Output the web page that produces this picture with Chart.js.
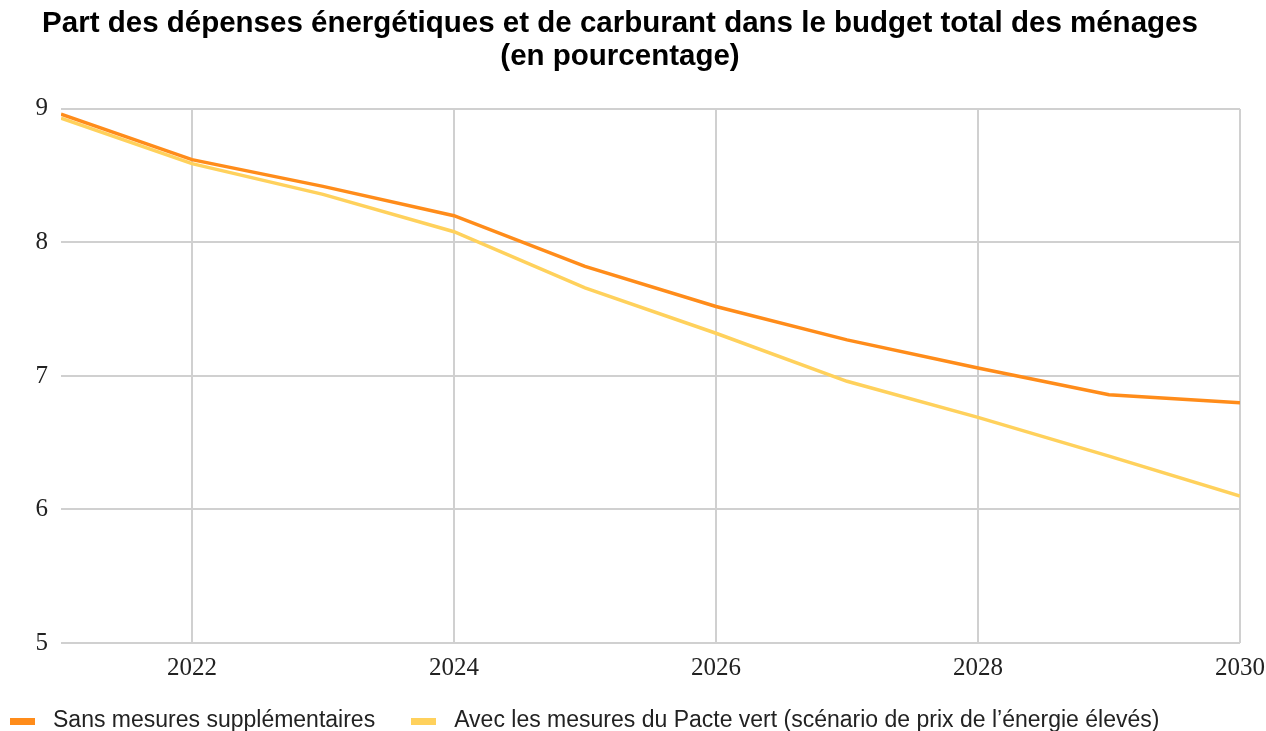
<!DOCTYPE html>
<html lang="fr">
<head>
<meta charset="UTF-8" />
<title>Part des dépenses énergétiques</title>
<script src="https://cdn.jsdelivr.net/npm/chart.js"></script>
<style>
  html, body { margin: 0; padding: 0; background: #fff; }
  #wrap { position: relative; width: 1266px; height: 731px; }
  #legend {
    position: absolute; left: 10px; top: 706px;
    display: flex; align-items: center;
    font-family: 'Liberation Sans', Arial, sans-serif; font-size: 23px; color: #222;
    white-space: nowrap;
  }
  #legend .item { display: flex; align-items: center; margin-right: 36px; }
  #legend .swatch { width: 25px; height: 7px; margin-right: 18px; margin-top: 3px; }
</style>
</head>
<body>
<div id="wrap">
  <canvas id="chart" width="1266" height="731"></canvas>
  <div id="legend"></div>
</div>
<script>
  // years on the x axis
  const years = [2021, 2022, 2023, 2024, 2025, 2026, 2027, 2028, 2029, 2030];
  const xTicks = [2022, 2024, 2026, 2028, 2030];
  const yTicks = [5, 6, 7, 8, 9];

  const sansMesures = [8.96, 8.62, 8.42, 8.20, 7.82, 7.52, 7.27, 7.06, 6.86, 6.80];
  const pacteVert = [8.93, 8.59, 8.36, 8.08, 7.66, 7.32, 6.96, 6.69, 6.40, 6.10];

  const seriesNames = [
    'Sans mesures supplémentaires',
    'Avec les mesures du Pacte vert (scénario de prix de l\u2019énergie élevés)'
  ];

  const toPoints = vals => vals.map((v, i) => ({ x: years[i], y: v }));

  const chart = new Chart(document.getElementById('chart'), {
    type: 'line',
    data: {
      datasets: [
        {
          label: seriesNames[0],
          data: toPoints(sansMesures),
          borderColor: '#ff8c1a',
          borderWidth: 3.5,
          pointRadius: 0,
          tension: 0,
        },
        {
          label: seriesNames[1],
          data: toPoints(pacteVert),
          borderColor: '#ffd15c',
          borderWidth: 3.5,
          pointRadius: 0,
          tension: 0,
        },
      ],
    },
    options: {
      responsive: false,
      animation: false,
      layout: { padding: { left: 0, right: 26, top: 0, bottom: 48 } },
      plugins: {
        title: {
          display: true,
          text: ['Part des dépenses énergétiques et de carburant dans le budget total des ménages', '(en pourcentage)'],
          color: '#000',
          font: { family: 'Liberation Sans', size: 29.5, weight: 'bold', lineHeight: 1.1 },
          padding: { top: 8, bottom: 36 },
        },
        legend: { display: false },
        tooltip: { enabled: false },
      },
      scales: {
        x: {
          type: 'linear',
          min: 2021,
          max: 2030,
          afterBuildTicks: scale => { scale.ticks = xTicks.map(v => ({ value: v })); },
          afterFit: scale => {
            scale.height = 40;
            scale.paddingLeft = 0;
            scale.paddingRight = 0;
          },
          ticks: {
            color: '#222',
            font: { family: 'Liberation Serif', size: 25 },
            padding: 10,
            maxRotation: 0,
            callback: v => String(v),
          },
          grid: { color: '#d0d0d0', lineWidth: 2, drawTicks: false },
          border: { display: false },
        },
        y: {
          min: 5,
          max: 9,
          afterBuildTicks: scale => { scale.ticks = yTicks.map(v => ({ value: v })); },
          afterFit: scale => { scale.width = 61; },
          ticks: {
            color: '#222',
            font: { family: 'Liberation Serif', size: 25 },
            padding: 13,
          },
          grid: { color: '#d0d0d0', lineWidth: 2, drawTicks: false },
          border: { display: false },
        },
      },
    },
  });

  // legend in html, built from the datasets
  const legendEl = document.getElementById('legend');
  chart.data.datasets.forEach(ds => {
    const item = document.createElement('span');
    item.className = 'item';
    const sw = document.createElement('span');
    sw.className = 'swatch';
    sw.style.background = ds.borderColor;
    item.appendChild(sw);
    item.appendChild(document.createTextNode(ds.label));
    legendEl.appendChild(item);
  });
</script>
</body>
</html>
